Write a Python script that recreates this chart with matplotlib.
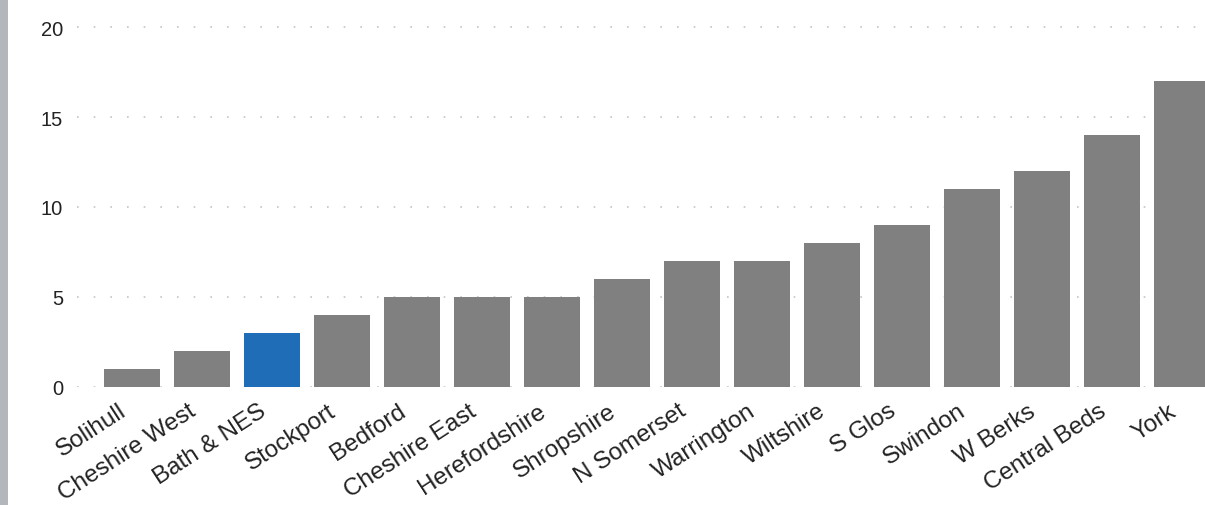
import matplotlib.pyplot as plt
from matplotlib.patches import Rectangle
from matplotlib.transforms import ScaledTranslation
import numpy as np

areas = ['Solihull', 'Cheshire West', 'Bath & NES', 'Stockport', 'Bedford',
         'Cheshire East', 'Herefordshire', 'Shropshire', 'N Somerset',
         'Warrington', 'Wiltshire', 'S Glos', 'Swindon', 'W Berks',
         'Central Beds', 'York']
counts = [1, 2, 3, 4, 5, 5, 5, 6, 7, 7, 8, 9, 11, 12, 14, 17]
highlight = 'Bath & NES'

plt.rcParams['font.family'] = ['Liberation Sans', 'DejaVu Sans']

W, H = 1205, 506
fig = plt.figure(figsize=(W / 100, H / 100), dpi=100)

# thin grey strip down the left edge
fig.patches.append(Rectangle((0, 0), 8 / W, 1, transform=fig.transFigure,
                             facecolor='#b3b7bb', edgecolor='none'))

ax = fig.add_axes([77 / W, 118 / H, 1 - 77 / W, 378 / H])

x = np.arange(len(areas))
colors = ['#1f6db6' if a == highlight else '#808080' for a in areas]
ax.bar(x, counts, width=0.79, color=colors, zorder=2)

ax.set_xlim(-0.786, 15.33)
ax.set_ylim(0, 21)
ax.set_yticks([0, 5, 10, 15, 20])
ax.set_xticks(x)
ax.set_xticklabels(areas, rotation=33, ha='right', rotation_mode='anchor')

ax.tick_params(axis='both', length=0, colors='#222222')
ax.tick_params(axis='y', pad=10, labelsize=14.5)
ax.tick_params(axis='x', pad=9, labelsize=17.5)

# nudge category labels a little left of the bar centres
shift = ScaledTranslation(-14 / 100, 0, fig.dpi_scale_trans)
for lbl in ax.get_xticklabels():
    lbl.set_transform(lbl.get_transform() + shift)

ax.grid(axis='y', color='#c4c4c4', linestyle=(0, (1, 9)), linewidth=1.2, zorder=1)
for s in ax.spines.values():
    s.set_visible(False)

fig.savefig('out.png', dpi=100)
